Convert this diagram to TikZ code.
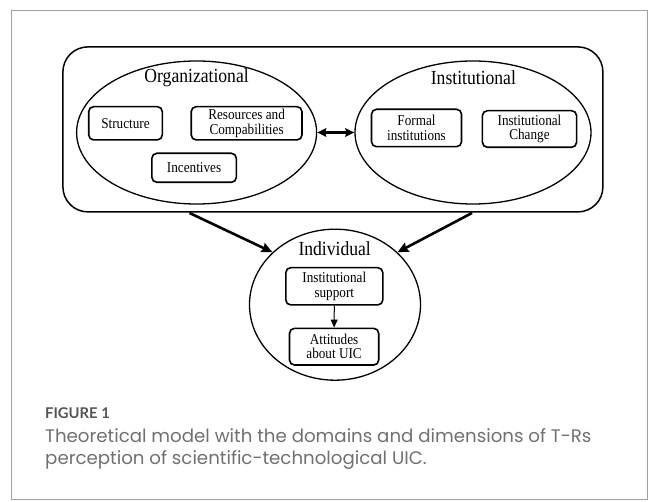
\documentclass[tikz,border=0pt]{standalone}
\usepackage{fontspec}
\setmainfont{Liberation Serif}
\newfontfamily\diafont[FakeStretch=0.88]{Liberation Serif}
\newfontfamily\capfont{Poppins}
\newfontfamily\capheadfont{Lato}
\usetikzlibrary{arrows.meta,shapes.geometric}
\definecolor{framegray}{HTML}{A0A0A0}
\definecolor{captext}{HTML}{707070}
\definecolor{caphead}{HTML}{555555}
\begin{document}
\begin{tikzpicture}[x=1pt,y=-1pt,
  box/.style={draw, line width=1.6pt, rounded corners=5pt, align=center,
    font=\diafont\fontsize{15}{14.3}\selectfont, inner sep=0pt},
  dom/.style={draw, ellipse, line width=1.3pt, inner sep=0pt},
  head/.style={font=\diafont\fontsize{20}{22}\selectfont, inner sep=0pt},
  bigarrow/.style={line width=2.6pt, -{Stealth[length=11pt,width=10pt,inset=1.5pt]}},
  dblarrow/.style={line width=2.2pt, {Stealth[length=9pt,width=8.5pt,inset=1pt]}-{Stealth[length=9pt,width=8.5pt,inset=1pt]}},
  smallarrow/.style={line width=1pt, -{Triangle[length=8pt,width=7pt]}},
  caption/.style={font=\capfont\fontsize{18.2}{24}\selectfont, text=captext, anchor=west, inner sep=0pt}
]
\useasboundingbox (0,0) rectangle (654,502);
\draw[framegray, line width=1pt] (11.7,10.7) rectangle (647.3,499.3);

% outer rounded rectangle
\node[draw, line width=1.5pt, rounded corners=25pt, minimum width=540pt, minimum height=165pt, inner sep=0pt] (outer) at (332.9,129.4) {};

% domains
\node[dom, minimum width=240pt, minimum height=143pt] (org) at (196.6,132.5) {};
\node[dom, minimum width=236pt, minimum height=143pt] (inst) at (473,132.5) {};
\node[dom, minimum width=171pt, minimum height=151pt] (ind) at (335,304.7) {};

\node[head] (orgt) at (196.6,78) {Organizational};
\node[head] (instt) at (473.4,78) {Institutional};
\node[head] (indt) at (334.7,249) {Individual};

% boxes
\node[box, minimum width=73.6pt, minimum height=33.3pt] (struct) at (125.5,123.3) {Structure};
\node[box, minimum width=110.8pt, minimum height=33.3pt] (res) at (246.6,123.3) {Resources and\\Compabilities};
\node[box, minimum width=84.5pt, minimum height=29pt] (inc) at (194.1,167.8) {Incentives};
\node[box, minimum width=90pt, minimum height=37.4pt] (formal) at (416.5,128) {Formal\\institutions};
\node[box, minimum width=94.2pt, minimum height=36.6pt] (ichange) at (529.5,129) {Institutional\\Change};
\node[box, minimum width=97pt, minimum height=37.3pt] (support) at (334.3,286.3) {Institutional\\support};
\node[box, minimum width=89.2pt, minimum height=36.7pt] (att) at (334.1,346.7) {Attitudes\\about UIC};

% connectors
\draw[dblarrow] (org.east) -- (inst.west);
\coordinate (s1) at (189.5,213);
\coordinate (s2) at (472,213);
\draw[bigarrow] (s1) -- (ind.140);
\draw[bigarrow] (s2) -- (ind.40);
\draw[smallarrow] (support.south) -- (att.north);

% caption
\node[caption, font=\capheadfont\bfseries\fontsize{14.8}{16}\selectfont, text=caphead] (fig) at (45,413) {FIGURE 1};
\node[caption] (cap1) at (45,436) {Theoretical model with the domains and dimensions of T-Rs};
\node[caption] (cap2) at (45,460) {perception of scientific-technological UIC.};
\end{tikzpicture}
\end{document}
